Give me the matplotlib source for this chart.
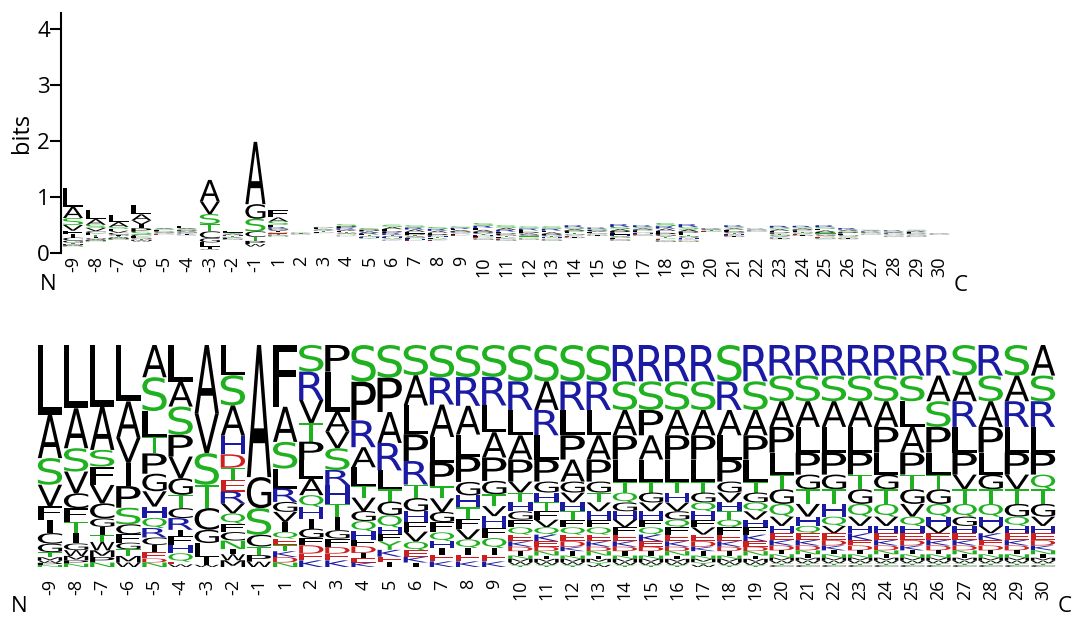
import matplotlib
matplotlib.use("Agg")
import matplotlib.pyplot as plt
import matplotlib.transforms as mtransforms
from matplotlib.textpath import TextPath
from matplotlib.patches import PathPatch
from matplotlib.font_manager import FontProperties

# residue positions around the cleavage site
positions = [-9, -8, -7, -6, -5, -4, -3, -2, -1] + list(range(1, 31))

# residues in each column, top to bottom, with their frequencies
stack_letters = [
    "LASVFICGTMWPN",
    "LASVCFTIGWMPN",
    "LASFVCGITWMPN",
    "LAVIPSCFGTMW",
    "ASLTPGVHQRCIEDN",
    "LASPVGTCRIFHQEW",
    "AVSTCGLIW",
    "LSAHDTERVQFCNIWM",
    "AGSCTPW",
    "FASLRGVIQETKDN",
    "SRVTPLAQHIGFDEK",
    "PLAVSRHTIGFDEK",
    "SPRALTVGQHFDIEK",
    "SPARLTGQHFYKEI",
    "SALPRTGHFVQEKI",
    "SRALPTVGFQHIEK",
    "SRALPGHTFVQIEK",
    "SRLAPGTVHFQIEK",
    "SRLAPVTHGFQEKDINMWY",
    "SARLPGHTFVQKEDNIMWY",
    "SRLPAGVHTFQEDKINMWY",
    "SRLAPGTVHFQEKDNIMYW",
    "RSAPLTQGHVFEKDINMWY",
    "RSPALTGVHFQKEDINMWY",
    "RSAPLTHVGQFEKDNIMWY",
    "RSAPLTGQHFVEDKINMYW",
    "SRALPGVHTQFEKDINMWY",
    "RSAPLTGQVHFKEDNIMWY",
    "RSAPLTGQVHEKDINMWYC",
    "RSALPGTVHQEKDNIMWYC",
    "RSALPGTHQVEDKINMWYC",
    "RSALPTGQVHKEDINMWYC",
    "RSAPLGTQVHEKDNIMWYC",
    "RSLAPTGVQHEDKINMWYC",
    "RASPLTGQHVEKDINMWYC",
    "SARLPVTQGHEKDNIMWYC",
    "RSAPLGTQHVKEDINMWYC",
    "SARLPVTGQHEKDINMWYC",
    "ASRLPQTGVHEDKNIMWYC",
]

mid_freqs = [.165, .13, .115, .11, .10, .05, .045, .04, .038, .035, .033,
             .03, .025, .02, .02, .015, .015, .012, .01]
tail_freqs = [.125, .105, .105, .105, .09, .06, .06, .052, .038, .03,
              .028, .022, .02, .016, .014, .012, .01, .008, .008]

stack_freqs = [
    [.315, .195, .12, .098, .06, .06, .048, .038, .023, .015, .01, .01, .009],
    [.285, .18, .105, .098, .068, .06, .053, .045, .03, .026, .02, .015, .015],
    [.278, .195, .075, .083, .083, .068, .038, .038, .03, .038, .03, .025, .02],
    [.255, .165, .113, .105, .098, .075, .045, .038, .03, .03, .03, .02],
    [.143, .15, .113, .075, .09, .078, .068, .05, .045, .042, .033, .033, .027, .018, .02],
    [.165, .113, .128, .098, .098, .075, .06, .045, .053, .03, .038, .038, .038, .012, .012],
    [.308, .18, .143, .105, .098, .06, .065, .033, .01],
    [.135, .135, .135, .083, .06, .053, .053, .053, .045, .045, .038, .038, .038, .023, .027, .03],
    [.595, .14, .12, .053, .038, .03, .024],
    [.278, .158, .12, .09, .06, .045, .045, .045, .03, .03, .027, .026, .025, .02],
    [.12, .128, .105, .083, .083, .083, .075, .053, .053, .045, .042, .033, .038, .03, .03],
    [.12, .18, .09, .075, .098, .068, .083, .06, .06, .038, .038, .03, .03, .03],
    [.165, .173, .12, .09, .083, .053, .06, .045, .045, .038, .03, .03, .023, .02, .02],
    [.143, .15, .135, .12, .083, .053, .06, .053, .03, .03, .038, .03, .025, .02],
    [.135, .135, .128, .12, .105, .06, .06, .045, .045, .045, .038, .03, .025, .02],
    [.143, .12, .143, .113, .105, .053, .06, .045, .045, .038, .03, .03, .03, .025],
    [.143, .128, .128, .098, .113, .06, .053, .053, .045, .045, .038, .03, .03, .025],
    [.143, .128, .12, .113, .105, .06, .053, .045, .053, .045, .045, .03, .03, .025],
] + [mid_freqs] * 10 + [tail_freqs] * 11

# lower and upper edge of each stack in the information panel (bits)
bits_low = [.12, .21, .24, .21, .33, .31, .06, .24, .12,
            .30, .33, .36, .30, .25, .22, .22, .22, .31, .24, .22, .24, .22,
            .27, .31, .22, .31, .20, .20, .38, .29, .38, .25, .31, .25, .25,
            .33, .29, .29, .33]
bits_high = [1.16, .77, .68, .86, .45, .48, 1.31, .39, 1.99,
             .77, .37, .47, .52, .45, .51, .50, .47, .48, .54, .50, .48, .48,
             .50, .46, .52, .50, .54, .52, .45, .50, .44, .49, .49, .50, .45,
             .42, .41, .42, .36]

GREEN, BLUE, RED, BLACK = "#1fb11f", "#1a1aa3", "#cc1f1f", "#000000"
residue_color = {}
for ch in "STQNY":
    residue_color[ch] = GREEN
for ch in "RKH":
    residue_color[ch] = BLUE
for ch in "DE":
    residue_color[ch] = RED

glyph_font = FontProperties(family="DejaVu Sans")
_glyph_cache = {}


def glyph_path(ch):
    if ch not in _glyph_cache:
        _glyph_cache[ch] = TextPath((0, 0), ch, size=1, prop=glyph_font)
    return _glyph_cache[ch]


def draw_letter(ax, ch, x, y, w, h):
    """Stretch a glyph so it fills the box centred on x, from y to y+h."""
    if h <= 0:
        return
    path = glyph_path(ch)
    ext = path.get_extents()
    if ch == "I":
        w = w * 0.22
    tr = (mtransforms.Affine2D()
          .translate(-ext.x0, -ext.y0)
          .scale(w / ext.width, h / ext.height)
          .translate(x - w / 2, y))
    patch = PathPatch(tr.transform_path(path), facecolor=residue_color.get(ch, BLACK),
                      edgecolor="none", lw=0)
    ax.add_patch(patch)


def draw_stack(ax, i, letters, freqs, y0, y1, width):
    total = sum(freqs)
    y = y1
    for ch, f in zip(letters, freqs):
        h = f / total * (y1 - y0)
        y -= h
        draw_letter(ax, ch, i, y, width, h)


W, H = 1073, 618
fig = plt.figure(figsize=(W / 100, H / 100), dpi=100)
label_font = "Open Sans"

# ---- information content panel ----
ax1 = fig.add_axes([61 / W, 1 - 253.3 / H, 889.9 / W, 240.3 / H])
ax1.set_xlim(-0.526, 38.5)
ax1.set_ylim(0, 4.29)
for i, (letters, freqs) in enumerate(zip(stack_letters, stack_freqs)):
    draw_stack(ax1, i, letters, freqs, bits_low[i], bits_high[i], 0.88)
    ax1.text(i, -0.05, str(positions[i]), rotation=90, ha="center", va="top",
             fontsize=13, family=label_font, clip_on=False)
for side in ("top", "right", "bottom"):
    ax1.spines[side].set_visible(False)
ax1.spines["left"].set_linewidth(1.5)
ax1.set_xticks([])
ax1.set_yticks([0, 1, 2, 3, 4])
ax1.tick_params(axis="y", length=8, width=1.5, labelsize=16, pad=0)
for t in ax1.get_yticklabels():
    t.set_family(label_font)
ax1.set_ylabel("bits", fontsize=17, family=label_font, labelpad=2)
fig.text(48 / W, 1 - 285 / H, "N", fontsize=16, family=label_font, ha="center", va="center")
fig.text(961 / W, 1 - 286 / H, "C", fontsize=16, family=label_font, ha="center", va="center")

# ---- frequency panel ----
ax2 = fig.add_axes([36.9 / W, 1 - 567 / H, 1019.2 / W, 222 / H])
ax2.set_xlim(-0.5, 38.5)
ax2.set_ylim(0, 1)
ax2.axis("off")
for i, (letters, freqs) in enumerate(zip(stack_letters, stack_freqs)):
    draw_stack(ax2, i, letters, freqs, 0, 1, 0.93)
    ax2.text(i, -0.055, str(positions[i]), rotation=90, ha="center", va="top",
             fontsize=13, family=label_font, clip_on=False)
fig.text(19 / W, 1 - 612 / H, "N", fontsize=16, family=label_font, ha="center", va="baseline")
fig.text(1072 / W, 1 - 612 / H, "C", fontsize=16, family=label_font, ha="right", va="baseline")

fig.savefig("out.png", dpi=100)
